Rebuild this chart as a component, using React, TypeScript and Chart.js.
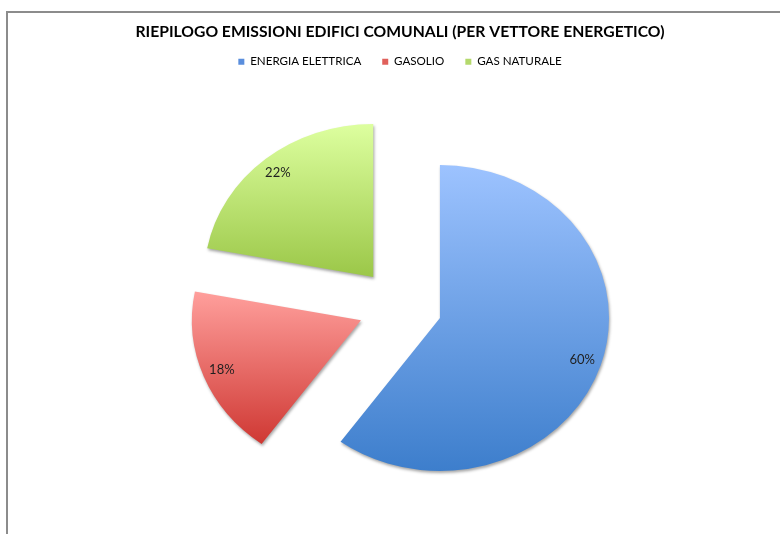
import React, { useEffect, useRef } from 'react';
import { Chart, registerables } from 'chart.js';

Chart.register(...registerables);

const categories = ['ENERGIA ELETTRICA', 'GASOLIO', 'GAS NATURALE'];
const shares = [60, 18, 22];
const percentLabels = ['60%', '18%', '22%'];
const topColors = ['#9dc3ff', '#ff9f9c', '#ddff9f'];
const bottomColors = ['#3d7ecc', '#cf3833', '#9bc748'];
const legendColors = ['#5a8edd', '#e0605b', '#b4d96c'];
const titleText = 'RIEPILOGO EMISSIONI EDIFICI COMUNALI (PER VETTORE ENERGETICO)';

const FONT = 'Lato, "Open Sans", sans-serif';

const framePlugin = {
  id: 'frame',
  beforeDraw(chart: any) {
    const ctx = chart.ctx;
    ctx.save();
    ctx.strokeStyle = '#8c8c8c';
    ctx.lineWidth = 2;
    ctx.beginPath();
    ctx.moveTo(7, 900);
    ctx.lineTo(7, 12);
    ctx.lineTo(900, 12);
    ctx.stroke();
    ctx.restore();
  },
};

const piePlugin = {
  id: 'explodedPie',
  beforeDatasetDraw(chart: any, args: any, opts: any) {
    const ctx = chart.ctx;
    const sx = opts.scaleX;
    const explode = opts.explode;
    const arcs = args.meta.data;
    const TAU = Math.PI * 2;
    arcs.forEach((arc: any, i: number) => {
      const { x, y, startAngle, endAngle, outerRadius } = arc.getProps(
        ['x', 'y', 'startAngle', 'endAngle', 'outerRadius'], true);
      const mid = (startAngle + endAngle) / 2;
      const ys = [y, y + outerRadius * Math.sin(startAngle), y + outerRadius * Math.sin(endAngle)];
      const inRange = (a: number) => {
        for (let k = -2; k <= 2; k++) {
          const aa = a + k * TAU;
          if (aa >= startAngle && aa <= endAngle) return true;
        }
        return false;
      };
      if (inRange(-Math.PI / 2)) ys.push(y - outerRadius);
      if (inRange(Math.PI / 2)) ys.push(y + outerRadius);
      const top = Math.min(...ys);
      const bot = Math.max(...ys);
      const g = ctx.createLinearGradient(0, top, 0, bot);
      g.addColorStop(0, topColors[i]);
      g.addColorStop(1, bottomColors[i]);
      ctx.save();
      ctx.shadowColor = 'rgba(0,0,0,0.35)';
      ctx.shadowBlur = 3;
      ctx.shadowOffsetX = 1;
      ctx.shadowOffsetY = 2;
      ctx.translate(x, y);
      ctx.scale(sx, 1);
      ctx.translate(-x, -y);
      ctx.translate(Math.cos(mid) * explode, Math.sin(mid) * explode);
      const saved = arc.options;
      arc.options = Object.assign({}, saved, { backgroundColor: g, borderWidth: 0 });
      arc.draw(ctx);
      arc.options = saved;
      ctx.restore();
    });
    ctx.save();
    ctx.font = `13px ${FONT}`;
    ctx.fillStyle = '#1f1f1f';
    ctx.textAlign = 'center';
    ctx.textBaseline = 'middle';
    arcs.forEach((arc: any, i: number) => {
      const { x, y, startAngle, endAngle, outerRadius } = arc.getProps(
        ['x', 'y', 'startAngle', 'endAngle', 'outerRadius'], true);
      const mid = (startAngle + endAngle) / 2;
      const rr = outerRadius * opts.labelRatio + explode;
      const lx = x + Math.cos(mid) * rr * sx;
      const ly = y + Math.sin(mid) * rr;
      ctx.fillText(percentLabels[i], lx, ly);
    });
    ctx.restore();
    return false;
  },
};

export default function App() {
  const ref = useRef<HTMLCanvasElement | null>(null);
  useEffect(() => {
    if (!ref.current) return;
    const chart = new Chart(ref.current, {
      type: 'pie',
      data: {
        labels: categories,
        datasets: [
          {
            data: shares,
            backgroundColor: legendColors,
            borderWidth: 0,
            hoverBorderWidth: 0,
            radius: 153,
          } as any,
        ],
      },
      options: {
        responsive: false,
        animation: false,
        events: [],
        layout: { padding: { left: 20, right: 0, top: 0, bottom: 5 } },
        plugins: {
          tooltip: { enabled: false },
          title: {
            display: true,
            text: titleText,
            color: '#000',
            font: { family: FONT, size: 15.7, weight: 'bold' },
            padding: { top: 23, bottom: -7 },
          },
          legend: {
            display: true,
            position: 'top',
            labels: {
              boxWidth: 6,
              boxHeight: 6,
              padding: 21,
              color: '#1a1a1a',
              font: { family: FONT, size: 11.6 },
              generateLabels: () =>
                categories.map((c, i) => ({
                  text: c,
                  fillStyle: legendColors[i],
                  strokeStyle: legendColors[i],
                  lineWidth: 0,
                  hidden: false,
                  index: i,
                  datasetIndex: 0,
                })),
            },
          },
          explodedPie: { scaleX: 1.105, explode: 38, labelRatio: 0.885 },
        } as any,
      },
      plugins: [framePlugin, piePlugin],
    });
    return () => chart.destroy();
  }, []);
  return (
    <canvas
      ref={ref}
      width={780}
      height={540}
      style={{ position: 'fixed', left: 0, top: 0, width: 780, height: 540 }}
    />
  );
}
